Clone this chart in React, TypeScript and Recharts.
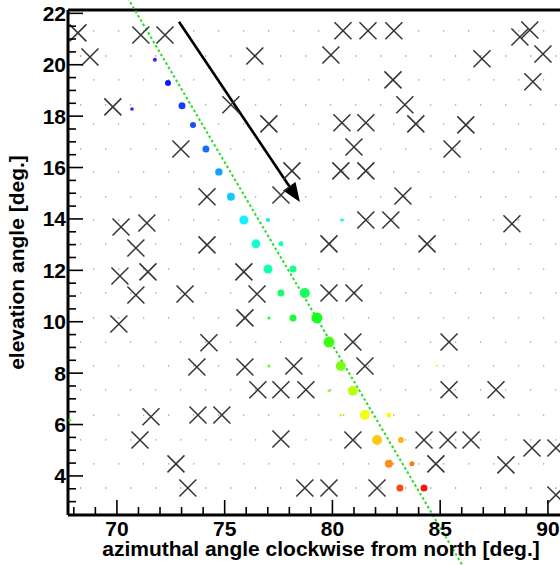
import React from "react";
import { Label, ReferenceLine, Scatter, ScatterChart, XAxis, YAxis } from "recharts";

// axis ticks (major labels on 70/75/80/85/90 and every 2 deg in elevation)
const xTicks = [68, 69, 70, 71, 72, 73, 74, 75, 76, 77, 78, 79, 80, 81, 82, 83, 84, 85, 86, 87, 88, 89, 90];
const yTicks = [
  3, 3.5, 4, 4.5, 5, 5.5, 6, 6.5, 7, 7.5, 8, 8.5, 9, 9.5, 10, 10.5, 11, 11.5, 12, 12.5,
  13, 13.5, 14, 14.5, 15, 15.5, 16, 16.5, 17, 17.5, 18, 18.5, 19, 19.5, 20, 20.5, 21, 21.5, 22,
];

// hit pixels: [azimuth, elevation, signal, time fraction]
const hits: [number, number, number, number][] = [
  [71.76, 20.19, 2, 0.0],
  [70.7, 18.28, 1.8, 0.0],
  [72.37, 19.29, 3, 0.06],
  [73.02, 18.4, 3.5, 0.1],
  [73.53, 17.66, 3, 0.12],
  [74.13, 16.72, 3.5, 0.15],
  [74.73, 15.83, 3.7, 0.2],
  [75.29, 14.86, 4, 0.24],
  [75.89, 13.96, 4.5, 0.28],
  [77.01, 13.96, 2, 0.27],
  [80.44, 13.96, 1.8, 0.3],
  [76.45, 13.03, 4.5, 0.34],
  [77.61, 13.03, 2.5, 0.36],
  [77.01, 12.05, 4.5, 0.38],
  [78.17, 12.05, 3.5, 0.4],
  [77.61, 11.12, 3.5, 0.44],
  [78.72, 11.12, 5, 0.46],
  [77.05, 10.15, 1.5, 0.5],
  [78.17, 10.15, 3.5, 0.5],
  [79.28, 10.15, 5.5, 0.52],
  [79.84, 9.21, 5.5, 0.57],
  [77.05, 8.28, 1.5, 0.6],
  [80.39, 8.28, 5, 0.63],
  [84.85, 8.28, 1, 0.7],
  [79.84, 7.31, 1.5, 0.65],
  [80.95, 7.31, 5, 0.7],
  [80.39, 6.37, 1.5, 0.72],
  [81.51, 6.37, 5, 0.75],
  [82.62, 6.37, 2.5, 0.77],
  [67.82, 6.18, 1.5, 0.55],
  [82.07, 5.4, 5, 0.82],
  [83.18, 5.4, 3, 0.84],
  [82.62, 4.47, 4, 0.88],
  [83.69, 4.47, 2.5, 0.9],
  [83.13, 3.53, 3.5, 0.95],
  [84.25, 3.53, 3.5, 1.0],
];

// flagged (dead) pixels: [azimuth, elevation]
const flagged: [number, number][] = [
  [68.19, 21.24], [68.75, 20.3], [69.81, 18.36], [71.11, 21.16], [72.23, 21.16], [75.29, 18.44],
  [76.4, 20.34], [77.05, 17.7], [79.93, 20.38], [80.49, 21.32], [81.65, 21.32], [82.85, 21.32],
  [82.81, 19.41], [83.36, 18.44], [80.44, 17.74], [81.55, 17.74], [83.87, 17.7], [86.19, 17.66],
  [86.94, 20.23], [88.7, 21.08], [89.16, 21.35], [89.77, 20.42], [89.3, 19.34],
  [72.97, 16.72], [78.12, 15.87], [74.18, 14.86], [77.61, 14.93], [70.19, 13.69], [71.39, 13.84],
  [70.88, 12.87], [74.18, 12.99], [70.14, 11.78], [71.44, 11.94], [75.89, 11.94],
  [81.0, 16.8], [85.55, 16.72], [80.39, 15.87], [81.55, 15.87], [83.27, 14.89], [81.55, 13.96],
  [82.71, 13.96], [88.33, 13.81], [79.84, 13.03], [84.39, 13.03],
  [70.88, 11.04], [73.16, 11.08], [76.5, 11.08], [79.84, 11.12], [81.0, 11.12], [70.09, 9.91],
  [75.94, 10.15], [74.27, 9.18], [80.95, 9.21], [85.41, 9.21], [73.71, 8.24], [75.94, 8.24],
  [78.21, 8.28], [81.51, 8.28], [76.54, 7.35], [77.61, 7.35], [78.77, 7.35], [85.41, 7.35], [87.59, 7.35],
  [71.58, 6.3], [73.76, 6.37], [74.87, 6.37], [71.07, 5.4], [77.61, 5.44], [72.74, 4.47],
  [73.29, 3.53], [78.72, 3.53],
  [80.95, 5.4], [84.25, 5.4], [85.36, 5.4], [86.43, 5.4], [89.26, 5.09], [90.37, 5.09],
  [84.8, 4.47], [88.05, 4.43], [79.84, 3.53], [82.07, 3.53], [90.37, 3.26],
];

// elevation of the camera pixel rows
const pixelRows = [
  21.32, 20.34, 19.41, 18.44, 17.7, 16.72, 15.83, 14.86, 13.96, 13.03,
  12.05, 11.12, 10.15, 9.21, 8.28, 7.35, 6.37, 5.4, 4.47, 3.53,
];

// fitted track and the direction arrow
const trackFit = [
  { x: 70.5, y: 22.6 },
  { x: 86.05, y: 0.5 },
];
const directionArrow = [
  { x: 72.88, y: 21.67 },
  { x: 78.49, y: 14.66 },
];

const X_DOMAIN: [number, number] = [67.73, 90.56];
const Y_DOMAIN: [number, number] = [2.48, 22.13];
const FONT = "'Liberation Sans', Arial, Helvetica, sans-serif";

const hitData = hits.map(([x, y, amp, t]) => ({ x, y, amp, t }));
const flaggedData = flagged.map(([x, y]) => ({ x, y }));

const palette = (t: number) => `hsl(${255 * (1 - t)}, 100%, 54%)`;

const HitDot = (p: any) => (
  <circle cx={p.cx} cy={p.cy} r={p.payload.amp} fill={palette(p.payload.t)} />
);

const Cross = (p: any) => {
  const s = 8.5;
  const { cx, cy } = p;
  return (
    <path
      d={`M${cx - s},${cy - s}L${cx + s},${cy + s}M${cx - s},${cy + s}L${cx + s},${cy - s}`}
      stroke="#333"
      strokeWidth={1.5}
      fill="none"
    />
  );
};

const ArrowShape = (p: any) => {
  const { x1, y1, x2, y2 } = p;
  const a = Math.atan2(y2 - y1, x2 - x1);
  const len = 19;
  const half = 7.5;
  const bx = x2 - len * Math.cos(a);
  const by = y2 - len * Math.sin(a);
  const nx = -Math.sin(a) * half;
  const ny = Math.cos(a) * half;
  return (
    <g>
      <line x1={x1} y1={y1} x2={bx} y2={by} stroke="#000" strokeWidth={2.6} />
      <polygon points={`${x2},${y2} ${bx + nx},${by + ny} ${bx - nx},${by - ny}`} fill="#000" />
    </g>
  );
};

const XTick = (p: any) => {
  const { x, y, payload } = p;
  const v = payload.value;
  const major = v % 5 === 0;
  return (
    <g>
      <line x1={x} x2={x} y1={y} y2={y - (major ? 15 : 8)} stroke="#000" strokeWidth={1.6} />
      {major && (
        <text x={x} y={y + 20.5} textAnchor="middle" fontFamily={FONT} fontWeight="bold" fontSize={21} fill="#000">
          {v}
        </text>
      )}
    </g>
  );
};

const YTick = (p: any) => {
  const { x, y, payload } = p;
  const v = payload.value;
  const major = v % 2 === 0;
  return (
    <g>
      <line x1={x} x2={x + (major ? 15 : 8)} y1={y} y2={y} stroke="#000" strokeWidth={1.6} />
      {major && (
        <text x={x - 2} y={y} dy="0.36em" textAnchor="end" fontFamily={FONT} fontWeight="bold" fontSize={21} fill="#000">
          {v}
        </text>
      )}
    </g>
  );
};

const YTitle = (props: any) => {
  const vb = props.viewBox ?? { x: 0, y: 10, width: 68, height: 505 };
  const cx = vb.x + 24;
  const cy = vb.y + vb.height / 2;
  return (
    <text
      transform={`translate(${cx},${cy}) rotate(-90)`}
      textAnchor="middle"
      fontFamily={FONT}
      fontWeight="bold"
      fontSize={21}
      fill="#000"
    >
      elevation angle [deg.]
    </text>
  );
};

const XTitle = (props: any) => {
  const vb = props.viewBox ?? { x: 68, y: 515, width: 492, height: 50 };
  return (
    <text
      x={vb.x + vb.width / 2 + 7}
      y={vb.y + 41}
      textAnchor="middle"
      fontFamily={FONT}
      fontWeight="bold"
      fontSize={21}
      fill="#000"
    >
      azimuthal angle clockwise from north [deg.]
    </text>
  );
};

export default function App() {
  return (
    <div style={{ position: "absolute", left: 0, top: 0, width: 560, height: 565, background: "#fff" }}>
      <ScatterChart width={560} height={565} margin={{ top: 10, right: 0, bottom: 0, left: 0 }}>
        <XAxis
          type="number"
          dataKey="x"
          domain={X_DOMAIN}
          allowDataOverflow
          ticks={xTicks}
          interval={0}
          tickSize={0}
          tickMargin={0}
          tickLine={false}
          tick={XTick}
          height={50}
          axisLine={{ stroke: "#000", strokeWidth: 3 }}
        >
          <Label content={XTitle} />
        </XAxis>
        <YAxis
          type="number"
          dataKey="y"
          domain={Y_DOMAIN}
          allowDataOverflow
          ticks={yTicks}
          interval={0}
          tickSize={0}
          tickMargin={0}
          tickLine={false}
          tick={YTick}
          width={68}
          axisLine={{ stroke: "#000", strokeWidth: 3 }}
        >
          <Label content={YTitle} />
        </YAxis>
        {pixelRows.map((row, i) => (
          <ReferenceLine
            key={`row-${i}`}
            y={row}
            stroke="#9a9a9a"
            strokeWidth={1.3}
            strokeDasharray="1.3 23.7"
            strokeDashoffset={i % 2 === 0 ? 0 : 13}
          />
        ))}
        <ReferenceLine y={Y_DOMAIN[1]} stroke="#000" strokeWidth={3} />
        <Scatter data={flaggedData} shape={Cross} isAnimationActive={false} />
        <Scatter data={hitData} shape={HitDot} isAnimationActive={false} />
        <ReferenceLine
          segment={trackFit}
          ifOverflow="visible"
          stroke="#22dd22"
          strokeWidth={2}
          strokeDasharray="2.5 2.5"
        />
        <ReferenceLine segment={directionArrow} ifOverflow="visible" shape={ArrowShape} />
      </ScatterChart>
    </div>
  );
}
